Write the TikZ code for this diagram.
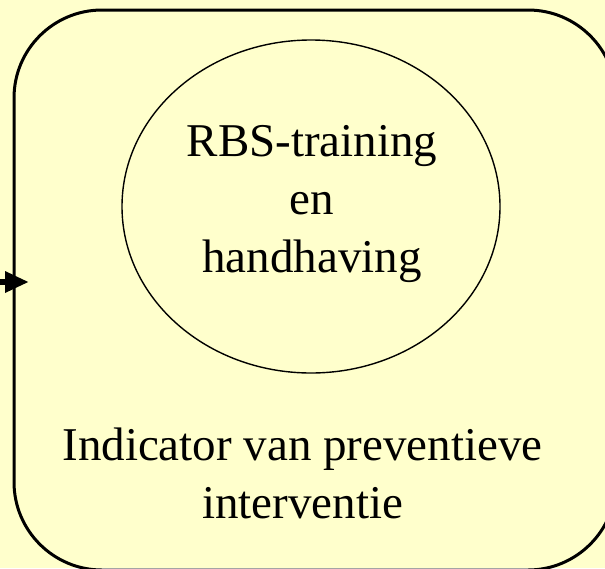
\documentclass[tikz,border=0pt]{standalone}
\usepackage{fontspec}
\setmainfont{Liberation Serif}
\usetikzlibrary{shapes.geometric,arrows.meta}
\definecolor{bgyellow}{RGB}{255,255,204}
\begin{document}
\begin{tikzpicture}[x=1pt,y=-1pt,
  framebox/.style={draw=black, line width=3pt, rounded corners=88pt, rectangle,
    minimum width=602pt, minimum height=560pt, inner sep=0pt},
  oval/.style={draw=black, line width=1.4pt, ellipse, minimum width=378pt,
    minimum height=333pt, inner sep=0pt},
  bigtext/.style={font=\fontsize{47}{58}\selectfont, align=center, inner sep=0pt},
  inarrow/.style={line width=6pt, -{Triangle[length=24pt,width=20pt]}}]
  \fill[bgyellow] (0,0) rectangle (605,568);
  \useasboundingbox (0,0) rectangle (605,568);
  \clip (0,0) rectangle (605,568);
  \node[framebox] (frame) at (315,290) {};
  \node[oval] (ell) at (311,206.5) {};
  \node[bigtext] (ellt) at (312,204) {RBS-training\\en\\handhaving};
  \node[bigtext] (ind) at (302.5,473) {Indicator van preventieve\\interventie};
  \coordinate (src) at (0,282);
  \coordinate (tip) at (29,282);
  \draw[inarrow] (src) -- (tip);
\end{tikzpicture}
\end{document}
